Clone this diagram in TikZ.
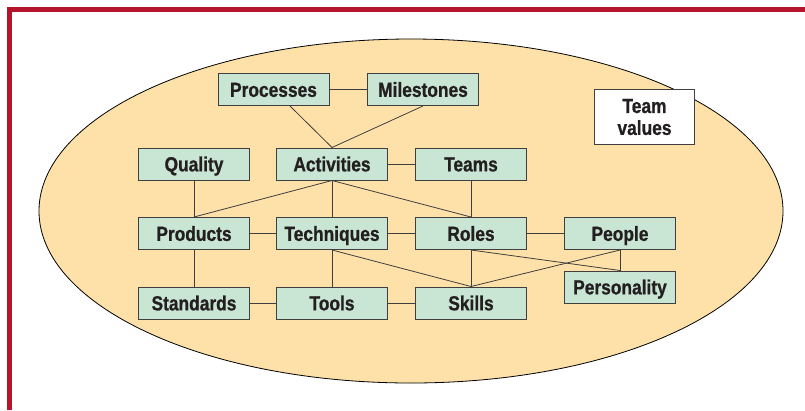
\documentclass[tikz,border=0pt]{standalone}
\usepackage{fontspec}
\newfontfamily\boxfont{Liberation Sans}[FakeStretch=0.85, FakeBold=0.8]
\definecolor{framered}{HTML}{B5152B}
\definecolor{ovalfill}{HTML}{FDE1A8}
\definecolor{boxfill}{HTML}{C9E5D4}
\definecolor{linegray}{HTML}{3F3F3F}
\definecolor{textdark}{HTML}{231F20}
\tikzset{
  box/.style={draw=linegray, line width=1bp, fill=boxfill, minimum width=111bp, minimum height=32bp, inner sep=0pt, text height=14.7bp, text depth=0pt, text=textdark, font=\boxfont\bfseries\fontsize{20.5}{22}\selectfont},
  link/.style={draw=linegray, line width=0.8bp}
}
\begin{document}
\begin{tikzpicture}[x=1bp, y=-1bp]
\useasboundingbox (0,0) rectangle (805,410);
\draw[framered, line width=5bp] (9.5,410) -- (9.5,9.5) -- (805,9.5);
\draw[fill=ovalfill, line width=0.8bp] (411,211) ellipse [x radius=372, y radius=172];
% top row
\node[box] (proc) at (273.5,89.5) {Processes};
\node[box] (mile) at (423,89.5) {Milestones};
\node[box, fill=white, minimum width=100bp, minimum height=55bp, text height=, text depth=, align=center] (values) at (644.5,117) {Team\\values};
% grid
\node[box] (qual) at (194,164) {Quality};
\node[box] (act) at (332,164) {Activities};
\node[box] (teams) at (471,164) {Teams};
\node[box] (prod) at (194,233.5) {Products};
\node[box] (tech) at (332,233.5) {Techniques};
\node[box] (roles) at (471,233.5) {Roles};
\node[box] (people) at (620,233.5) {People};
\node[box] (pers) at (620,287) {Personality};
\node[box] (stand) at (194,303) {Standards};
\node[box] (tools) at (332,303) {Tools};
\node[box] (skills) at (471,303) {Skills};
% links
\draw[link] (proc) -- (mile);
\draw[link] (proc.-45) -- (act.north);
\draw[link] (mile.south) -- (act.north);
\draw[link] (act) -- (teams);
\draw[link] (qual) -- (prod);
\draw[link] (act.south) -- (prod.north);
\draw[link] (act) -- (tech);
\draw[link] (act.south) -- (roles.north);
\draw[link] (teams) -- (roles);
\draw[link] (prod) -- (tech);
\draw[link] (tech) -- (roles);
\draw[link] (roles) -- (people);
\draw[link] (prod) -- (stand);
\draw[link] (tech) -- (tools);
\draw[link] (tech.south) -- (skills.north);
\draw[link] (roles) -- (skills);
\draw[link] (roles.south) -- (pers.north);
\draw[link] (people.south) -- (skills.north);
\draw[link] (people) -- (pers);
\draw[link] (stand) -- (tools);
\draw[link] (tools) -- (skills);
\end{tikzpicture}
\end{document}
